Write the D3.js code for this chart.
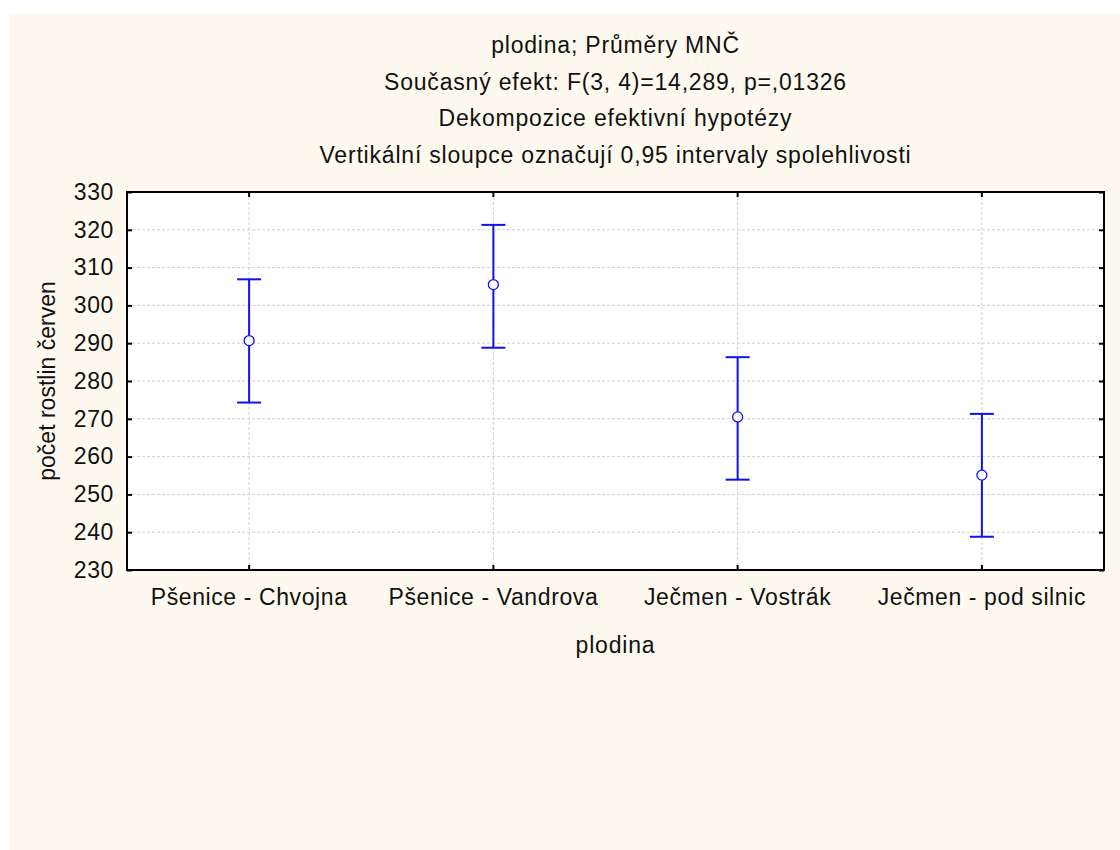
<!DOCTYPE html>
<html>
<head>
<meta charset="utf-8">
<script src="https://cdn.jsdelivr.net/npm/d3@7"></script>
<style>
  body { margin: 0; background: #fff; }
  svg { display: block; font-family: "Liberation Sans", Arial, sans-serif; }
</style>
</head>
<body>
<div id="chart"></div>
<script>
// data
var categories = ['Pšenice - Chvojna', 'Pšenice - Vandrova', 'Ječmen - Vostrák', 'Ječmen - pod silnic']
var means = [290.7, 305.5, 270.5, 255.1]
var lower = [274.3, 288.8, 253.9, 238.8]
var upper = [306.9, 321.3, 286.3, 271.3]
var yTicks = [230, 240, 250, 260, 270, 280, 290, 300, 310, 320, 330]
var titleLines = [
  'plodina; Průměry MNČ',
  'Současný efekt: F(3, 4)=14,289, p=,01326',
  'Dekompozice efektivní hypotézy',
  'Vertikální sloupce označují 0,95 intervaly spolehlivosti'
]

var W = 1120, H = 850
var margin = {top: 192, right: 16, bottom: 280, left: 127}
var width = W - margin.left - margin.right,
    height = H - margin.top - margin.bottom
var fs = 23

var svg = d3.select('#chart').append('svg')
  .attr('width', W)
  .attr('height', H)

// cream background panel
svg.append('rect')
  .attr('x', 9).attr('y', 14)
  .attr('width', W - 9).attr('height', H - 14)
  .attr('fill', '#fef9ee')

// titles
svg.selectAll('.title')
  .data(titleLines)
  .enter().append('text')
  .attr('class', 'title')
  .attr('x', margin.left + width / 2)
  .attr('y', (d, i) => 53 + i * 36.7)
  .attr('text-anchor', 'middle')
  .attr('font-size', fs)
  .attr('letter-spacing', '0.8px')
  .attr('fill', '#111')
  .text(d => d)

var g = svg.append('g')
  .attr('transform', 'translate(' + margin.left + ',' + margin.top + ')')

var x = d3.scaleBand().domain(categories).range([0, width])
var y = d3.scaleLinear().domain([230, 330]).range([height, 0])

g.append('rect')
  .attr('width', width).attr('height', height)
  .attr('fill', '#fff')

// grid
g.append('g')
  .selectAll('line')
  .data(yTicks.slice(1, -1))
  .enter().append('line')
  .attr('x1', 0).attr('x2', width)
  .attr('y1', d => y(d)).attr('y2', d => y(d))
  .attr('stroke', '#cfcfcf')
  .attr('stroke-dasharray', '3,2')
g.append('g')
  .selectAll('line')
  .data(categories)
  .enter().append('line')
  .attr('x1', d => x(d) + x.bandwidth() / 2).attr('x2', d => x(d) + x.bandwidth() / 2)
  .attr('y1', 0).attr('y2', height)
  .attr('stroke', '#cfcfcf')
  .attr('stroke-dasharray', '3,2')

// axes
var yAxis = g.append('g')
  .call(d3.axisLeft(y).tickValues(yTicks).tickSize(-5).tickPadding(13).tickFormat(d3.format('d')))
yAxis.select('.domain').remove()
yAxis.selectAll('line').attr('stroke', '#000').attr('stroke-width', 2)
yAxis.selectAll('text').attr('font-size', fs).attr('fill', '#111').attr('letter-spacing', '0.6px')

var yRight = g.append('g')
  .attr('transform', 'translate(' + width + ',0)')
  .call(d3.axisRight(y).tickValues(yTicks).tickSize(-5).tickFormat(''))
yRight.select('.domain').remove()
yRight.selectAll('line').attr('stroke', '#000').attr('stroke-width', 2)

var xAxis = g.append('g')
  .attr('transform', 'translate(0,' + height + ')')
  .call(d3.axisBottom(x).tickSize(-5).tickPadding(19))
xAxis.select('.domain').remove()
xAxis.selectAll('line').attr('stroke', '#000').attr('stroke-width', 2)
xAxis.selectAll('text').attr('font-size', fs).attr('fill', '#111').attr('letter-spacing', '0.6px')

var xTop = g.append('g')
  .call(d3.axisTop(x).tickSize(-5).tickFormat(''))
xTop.select('.domain').remove()
xTop.selectAll('line').attr('stroke', '#000').attr('stroke-width', 2)

// frame
g.append('rect')
  .attr('width', width).attr('height', height)
  .attr('fill', 'none')
  .attr('stroke', '#000')
  .attr('stroke-width', 2)

// axis titles
g.append('text')
  .attr('x', width / 2)
  .attr('y', height + 83)
  .attr('text-anchor', 'middle')
  .attr('font-size', fs)
  .attr('letter-spacing', '0.8px')
  .attr('fill', '#111')
  .text('plodina')

g.append('text')
  .attr('transform', 'translate(' + (-72) + ',' + (height / 2) + ') rotate(-90)')
  .attr('text-anchor', 'middle')
  .attr('font-size', fs)
  .attr('fill', '#111')
  .text('počet rostlin červen')

// error bars
var blue = '#1010f0'
var pts = categories.map((c, i) => ({c: c, m: means[i], lo: lower[i], hi: upper[i]}))
var bars = g.append('g').selectAll('g')
  .data(pts)
  .enter().append('g')
  .attr('transform', d => 'translate(' + (x(d.c) + x.bandwidth() / 2) + ',0)')

bars.append('line')
  .attr('y1', d => y(d.hi)).attr('y2', d => y(d.m) - 5)
  .attr('stroke', blue).attr('stroke-width', 2)
bars.append('line')
  .attr('y1', d => y(d.m) + 5).attr('y2', d => y(d.lo))
  .attr('stroke', blue).attr('stroke-width', 2)
bars.append('line')
  .attr('x1', -12).attr('x2', 12)
  .attr('y1', d => y(d.hi)).attr('y2', d => y(d.hi))
  .attr('stroke', blue).attr('stroke-width', 2)
bars.append('line')
  .attr('x1', -12).attr('x2', 12)
  .attr('y1', d => y(d.lo)).attr('y2', d => y(d.lo))
  .attr('stroke', blue).attr('stroke-width', 2)
bars.append('circle')
  .attr('cy', d => y(d.m))
  .attr('r', 5)
  .attr('fill', '#fff')
  .attr('stroke', blue)
  .attr('stroke-width', 1.3)
</script>
</body>
</html>
